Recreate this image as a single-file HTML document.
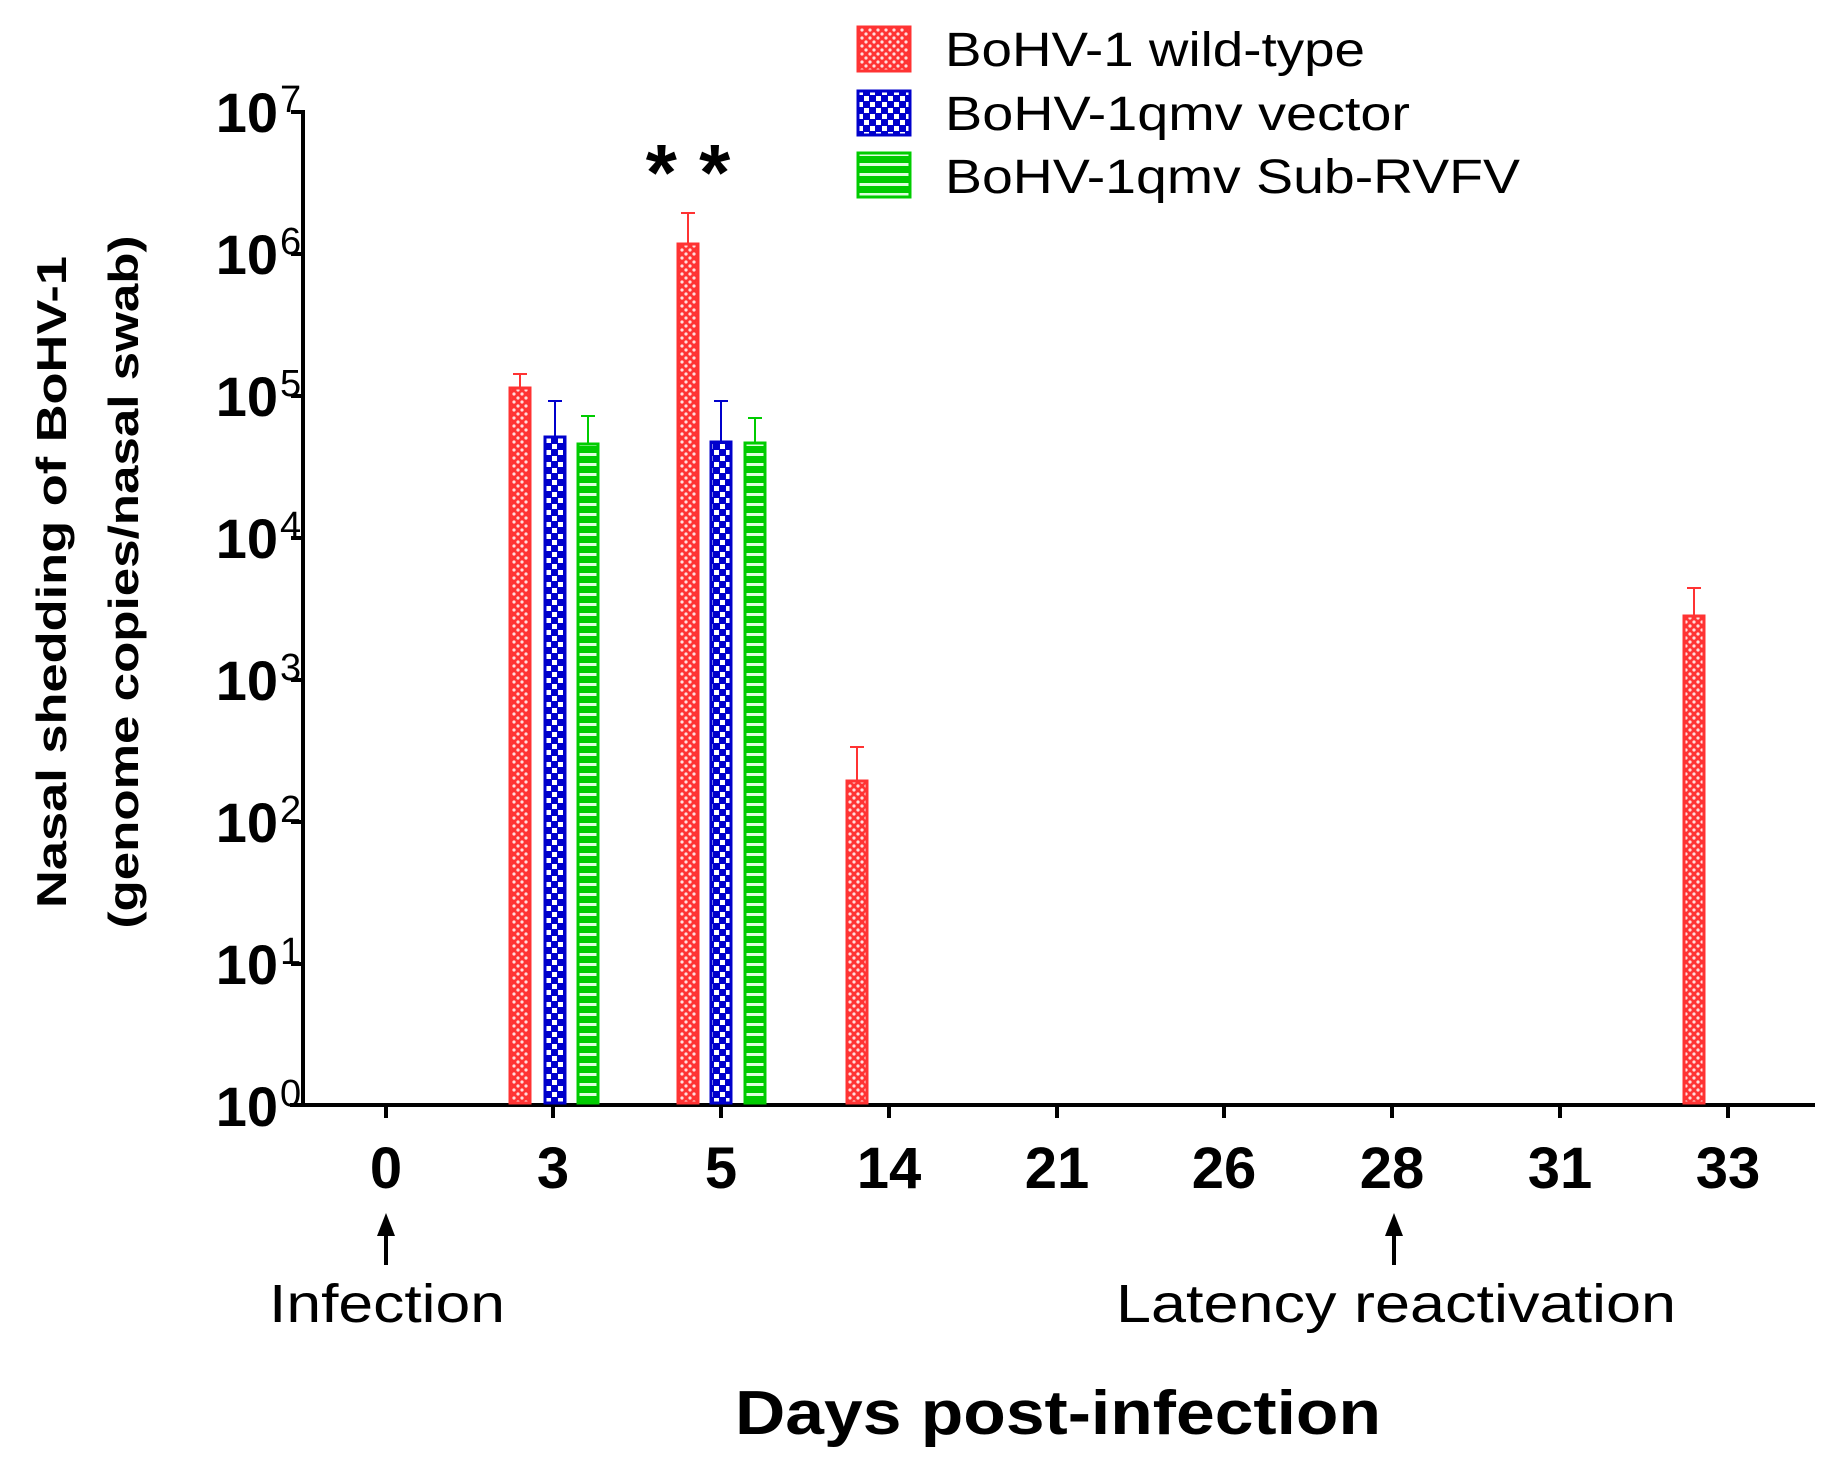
<!DOCTYPE html>
<html><head><meta charset="utf-8"><style>html,body{margin:0;padding:0;background:#fff}svg{display:block}</style></head><body>
<svg width="1833" height="1473" viewBox="0 0 1833 1473" xmlns="http://www.w3.org/2000/svg" font-family="Liberation Sans, Arial, sans-serif">
<defs>
<pattern id="pr" width="8" height="8" patternUnits="userSpaceOnUse"><rect width="8" height="8" fill="#f33"/><circle cx="2" cy="2" r="1.6" fill="#fdd"/><circle cx="6" cy="6" r="1.6" fill="#fdd"/></pattern>
<pattern id="pb" width="12" height="12" patternUnits="userSpaceOnUse"><rect width="12" height="12" fill="#00c"/><rect x="0" y="0" width="5" height="5" fill="#fff"/><rect x="6" y="6" width="5" height="5" fill="#fff"/></pattern>
<pattern id="pg" width="10" height="10" patternUnits="userSpaceOnUse"><rect width="10" height="10" fill="#0c0"/><rect x="0" y="3" width="10" height="3" fill="#dfd"/></pattern>
</defs>
<g stroke="#000" stroke-width="4" fill="none">
<line x1="303" y1="110" x2="303" y2="1107"/>
<line x1="290" y1="1105" x2="1815" y2="1105"/>
<line x1="291" y1="112" x2="303" y2="112"/><line x1="291" y1="254" x2="303" y2="254"/><line x1="291" y1="396" x2="303" y2="396"/><line x1="291" y1="538" x2="303" y2="538"/><line x1="291" y1="680" x2="303" y2="680"/><line x1="291" y1="822" x2="303" y2="822"/><line x1="291" y1="964" x2="303" y2="964"/>
<line x1="386" y1="1105" x2="386" y2="1118"/><line x1="553" y1="1105" x2="553" y2="1118"/><line x1="721" y1="1105" x2="721" y2="1118"/><line x1="889" y1="1105" x2="889" y2="1118"/><line x1="1057" y1="1105" x2="1057" y2="1118"/><line x1="1224" y1="1105" x2="1224" y2="1118"/><line x1="1392" y1="1105" x2="1392" y2="1118"/><line x1="1560" y1="1105" x2="1560" y2="1118"/><line x1="1728" y1="1105" x2="1728" y2="1118"/>
</g>
<g font-weight="bold" font-size="56" text-anchor="end">
<text x="278" y="132">10</text><text x="278" y="274">10</text><text x="278" y="416">10</text><text x="278" y="558">10</text><text x="278" y="700">10</text><text x="278" y="842">10</text><text x="278" y="984">10</text><text x="278" y="1126">10</text>
</g>
<g font-size="38" text-anchor="start">
<text x="280" y="112">7</text><text x="280" y="254">6</text><text x="280" y="396">5</text><text x="280" y="538">4</text><text x="280" y="680">3</text><text x="280" y="822">2</text><text x="280" y="964">1</text><text x="280" y="1106">0</text>
</g>
<g stroke-width="2">
<g stroke="#f33"><line x1="520" y1="374" x2="520" y2="390"/><line x1="513" y1="374" x2="527" y2="374"/>
<line x1="688" y1="213" x2="688" y2="246"/><line x1="681" y1="213" x2="695" y2="213"/>
<line x1="857" y1="747" x2="857" y2="783"/><line x1="850" y1="747" x2="864" y2="747"/>
<line x1="1694" y1="588" x2="1694" y2="618"/><line x1="1687" y1="588" x2="1701" y2="588"/></g>
<g stroke="#00c"><line x1="555" y1="401" x2="555" y2="439"/><line x1="548" y1="401" x2="562" y2="401"/>
<line x1="721" y1="401" x2="721" y2="444"/><line x1="714" y1="401" x2="728" y2="401"/></g>
<g stroke="#0c0"><line x1="588" y1="416" x2="588" y2="446"/><line x1="581" y1="416" x2="595" y2="416"/>
<line x1="755" y1="418" x2="755" y2="445"/><line x1="748" y1="418" x2="762" y2="418"/></g>
</g>
<g stroke-width="3">
<rect x="510" y="388" width="20" height="715" fill="url(#pr)" stroke="#f33"/>
<rect x="545" y="437" width="20" height="666" fill="url(#pb)" stroke="#00c"/>
<rect x="578" y="444" width="20" height="659" fill="url(#pg)" stroke="#0c0"/>
<rect x="678" y="244" width="20" height="859" fill="url(#pr)" stroke="#f33"/>
<rect x="711" y="442" width="20" height="661" fill="url(#pb)" stroke="#00c"/>
<rect x="745" y="443" width="20" height="660" fill="url(#pg)" stroke="#0c0"/>
<rect x="847" y="781" width="20" height="322" fill="url(#pr)" stroke="#f33"/>
<rect x="1684" y="616" width="20" height="487" fill="url(#pr)" stroke="#f33"/>
</g>
<text x="688" y="200" font-size="80" font-weight="bold" text-anchor="middle">* *</text>
<g stroke-width="3">
<rect x="858" y="27" width="52" height="44" fill="url(#pr)" stroke="#f33"/>
<rect x="858" y="91" width="52" height="44" fill="url(#pb)" stroke="#00c"/>
<rect x="858" y="153" width="52" height="44" fill="url(#pg)" stroke="#0c0"/>
</g>
<g font-size="48">
<text x="945" y="66" textLength="420" lengthAdjust="spacingAndGlyphs">BoHV-1 wild-type</text>
<text x="945" y="130" textLength="465" lengthAdjust="spacingAndGlyphs">BoHV-1qmv vector</text>
<text x="945" y="193" textLength="575" lengthAdjust="spacingAndGlyphs">BoHV-1qmv Sub-RVFV</text>
</g>
<g font-size="58" font-weight="bold" text-anchor="middle">
<text x="386" y="1188">0</text><text x="553" y="1188">3</text><text x="721" y="1188">5</text><text x="889" y="1188">14</text><text x="1057" y="1188">21</text><text x="1224" y="1188">26</text><text x="1392" y="1188">28</text><text x="1560" y="1188">31</text><text x="1728" y="1188">33</text>
</g>
<g stroke="#000" stroke-width="4"><line x1="386" y1="1230" x2="386" y2="1265"/><line x1="1394" y1="1230" x2="1394" y2="1265"/></g>
<polygon points="386,1213 377,1236 395,1236" fill="#000"/>
<polygon points="1394,1213 1385,1236 1403,1236" fill="#000"/>
<g font-size="54" text-anchor="middle">
<text x="387" y="1322" textLength="236" lengthAdjust="spacingAndGlyphs">Infection</text>
<text x="1396" y="1322" textLength="560" lengthAdjust="spacingAndGlyphs">Latency reactivation</text>
</g>
<text x="1058" y="1434" font-size="62" font-weight="bold" text-anchor="middle" textLength="646" lengthAdjust="spacingAndGlyphs">Days post-infection</text>
<g font-size="42" font-weight="bold" text-anchor="middle">
<text transform="translate(66,582) rotate(-90)" textLength="652" lengthAdjust="spacingAndGlyphs">Nasal shedding of BoHV-1</text>
<text transform="translate(138,582) rotate(-90)" textLength="693" lengthAdjust="spacingAndGlyphs">(genome copies/nasal swab)</text>
</g>
</svg>
</body></html>
